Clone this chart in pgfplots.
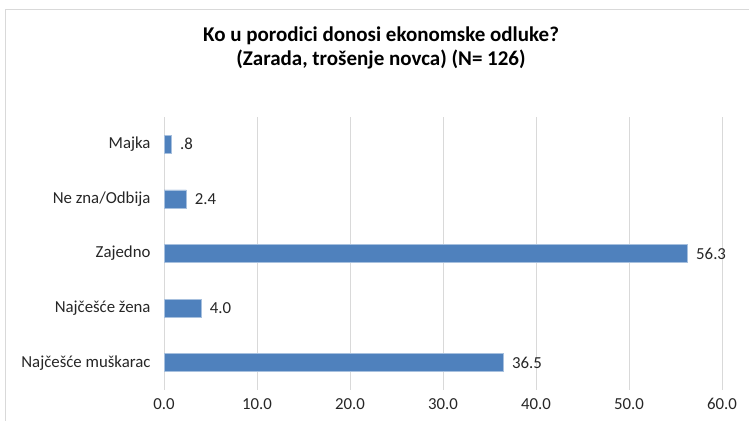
\documentclass[border=0pt]{standalone}
\usepackage{fontspec}
\setmainfont{Carlito}
\usepackage{pgfplots}
\pgfplotsset{compat=1.18}
\definecolor{barblue}{HTML}{4F81BD}
\definecolor{gridgray}{HTML}{D9D9D9}
\definecolor{txt}{HTML}{262626}
\begin{document}
\begin{tikzpicture}
\draw[gridgray, line width=0.8pt] (5pt,-20pt) rectangle (800pt,411pt);
\node[font=\bfseries\fontsize{21}{24}\selectfont, align=center, text=black] at (381pt,372pt) {Ko u porodici donosi ekonomske odluke?\\(Zarada, trošenje novca) (N= 126)};
\begin{axis}[at={(164pt,30pt)}, anchor=south west, scale only axis, width=558pt, height=273pt,
  xbar, bar width=18pt, xmin=0, xmax=60, ymin=-0.5, ymax=4.5,
  xtick={0,10,...,60}, ytick={0,...,4},
  yticklabels={Najčešće muškarac, Najčešće žena, Zajedno, Ne zna/Odbija, Majka},
  xmajorgrids, grid style={gridgray, line width=0.8pt},
  axis line style={draw=none}, major tick length=0,
  xticklabel={\pgfmathprintnumber[fixed,fixed zerofill,precision=1]{\tick}},
  /pgf/number format/assume math mode=true,
  tick label style={font=\fontsize{16.8}{19}\selectfont, text=txt},
  xticklabel style={yshift=-5pt},
  yticklabel style={xshift=-10pt},
  nodes near coords, point meta=explicit symbolic,
  nodes near coords style={font=\fontsize{16.8}{19}\selectfont, text=txt, anchor=west, xshift=5pt},
]
\addplot[fill=barblue, draw=barblue!50!white, line width=0.6pt] coordinates {(36.5,0) [36.5] (4.0,1) [4.0] (56.3,2) [56.3] (2.4,3) [2.4] (0.8,4) [.8]};
\end{axis}
\pgfresetboundingbox
\useasboundingbox (0pt,0pt) rectangle (749pt,420pt);
\end{tikzpicture}
\end{document}
